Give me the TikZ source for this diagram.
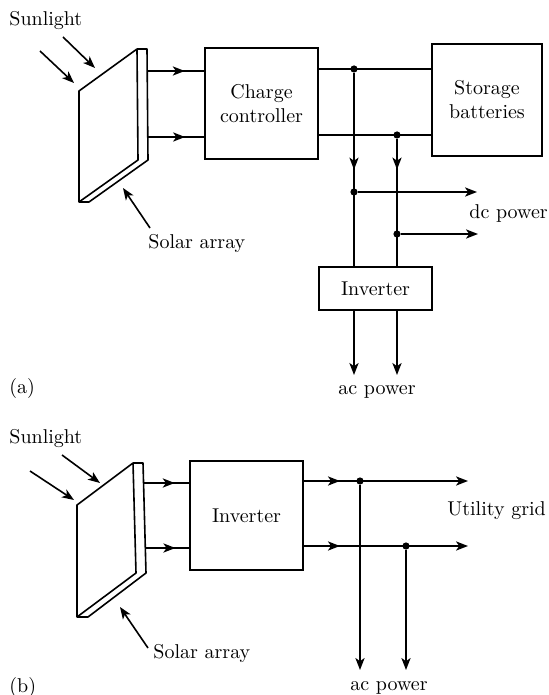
\documentclass[tikz,border=0pt]{standalone}
\usetikzlibrary{positioning,arrows.meta,calc}
\usetikzlibrary{decorations.markings}
\tikzset{
  wire/.style={line width=0.8pt},
  feed/.style={wire, ->},
  midflow/.style={wire, postaction={decorate},
    decoration={markings,mark=at position #1 with {\arrow{>}}}},
  block/.style={draw, line width=0.8pt, align=center, minimum width=56.5pt},
  junction/.style={circle, fill=black, inner sep=0pt, minimum size=3.6pt},
  plaintext/.style={inner sep=0pt, anchor=base west}
}

\begin{document}
\begin{tikzpicture}[x=0.5pt, y=-0.5pt, >={Stealth[length=6pt,width=4.6pt,inset=1.6pt]}]
    \useasboundingbox (0,0) rectangle (548,695);

    % (a) stand-alone system
    \node[plaintext] (suna) at (9,26) {Sunlight};
    \coordinate (ra1) at (40,51);  \coordinate (ra1e) at (74,83);
    \coordinate (ra2) at (63,37);  \coordinate (ra2e) at (95,68);
    \draw[feed] (ra1) -- (ra1e);
    \draw[feed] (ra2) -- (ra2e);

    \coordinate (pa) at (79,91);   \coordinate (pb) at (137,49);
    \coordinate (pc) at (138,160); \coordinate (pd) at (79,202);
    \coordinate (pbb) at (147,49); \coordinate (pcb) at (148,160);
    \coordinate (pdb) at (89,202);
    \draw[wire, line join=round] (pa) -- (pb) -- (pc) -- (pd) -- cycle;
    \draw[wire, line join=round] (pb) -- (pbb) -- (pcb) -- (pdb) -- (pd);

    \node[plaintext] (arraya) at (148,249) {Solar array};
    \coordinate (sa) at (150,228); \coordinate (sae) at (123,188);
    \draw[feed] (sa) -- (sae);

    \node[block, minimum height=55.5pt] (charger) at (261.5,103.5) {Charge\\controller};
    \node[block, minimum width=55pt, minimum height=56pt] (batt) at (487,100) {Storage\\batteries};
    \node[block, minimum height=21.5pt] (inva) at (375.5,288.5) {Inverter};

    \coordinate (oa1) at (147,71);
    \coordinate (oa2) at (148,137);
    \draw[midflow=0.66] (oa1) -- (charger.west |- oa1);
    \draw[midflow=0.66] (oa2) -- (charger.west |- oa2);

    \node[junction] (ja1) at (354,69) {};
    \node[junction] (jb1) at (397,135) {};
    \node[junction] (jd1) at (354,192) {};
    \node[junction] (jd2) at (397,234) {};
    \draw[wire] (charger.east |- ja1) -- (batt.west |- ja1);
    \draw[wire] (charger.east |- jb1) -- (batt.west |- jb1);
    \draw[midflow=0.5] (ja1) -- (inva.north -| ja1);
    \draw[midflow=0.24] (jb1) -- (inva.north -| jb1);

    \coordinate (dca) at (477,192);
    \coordinate (dcb) at (478,234);
    \draw[feed] (jd1) -- (dca);
    \draw[feed] (jd2) -- (dcb);
    \node[plaintext] (dclabel) at (469,219) {dc power};

    \coordinate (aca) at (354,375);
    \coordinate (acb) at (397,375);
    \draw[feed] (inva.south -| ja1) -- (aca);
    \draw[feed] (inva.south -| jb1) -- (acb);
    \node[anchor=base, inner sep=0pt] (aclabela) at (377,394) {ac power};

    \node[plaintext] (taga) at (9,393) {(a)};

    % (b) grid-connected system
    \node[plaintext] (sunb) at (9,443) {Sunlight};
    \coordinate (rb1) at (30,471);  \coordinate (rb1e) at (74,500);
    \coordinate (rb2) at (62,455);  \coordinate (rb2e) at (100,483);
    \draw[feed] (rb1) -- (rb1e);
    \draw[feed] (rb2) -- (rb2e);

    \coordinate (qa) at (77,505);   \coordinate (qb) at (133,463);
    \coordinate (qc) at (136,573);  \coordinate (qd) at (77,617);
    \coordinate (qbb) at (143,463); \coordinate (qcb) at (146,573);
    \coordinate (qdb) at (88,617);
    \draw[wire, line join=round] (qa) -- (qb) -- (qc) -- (qd) -- cycle;
    \draw[wire, line join=round] (qb) -- (qbb) -- (qcb) -- (qdb) -- (qd);

    \node[plaintext] (arrayb) at (153,658) {Solar array};
    \coordinate (sb) at (148,648); \coordinate (sbe) at (120,607);
    \draw[feed] (sb) -- (sbe);

    \node[block, minimum height=54.5pt] (invb) at (246.5,515.5) {Inverter};

    \coordinate (ob1) at (144,483);
    \coordinate (ob2) at (146,548);
    \draw[midflow=0.68] (ob1) -- (invb.west |- ob1);
    \draw[midflow=0.68] (ob2) -- (invb.west |- ob2);

    \node[junction] (jc1) at (360,481) {};
    \node[junction] (jc2) at (406,546) {};
    \coordinate (uga) at (468,481);
    \coordinate (ugb) at (468,546);
    \draw[midflow=0.22, ->] (invb.east |- uga) -- (uga);
    \draw[midflow=0.22, ->] (invb.east |- ugb) -- (ugb);
    \node[plaintext] (uglabel) at (447,515) {Utility grid};

    \coordinate (acc) at (360,670);
    \coordinate (acd) at (406,670);
    \draw[feed] (jc1) -- (acc);
    \draw[feed] (jc2) -- (acd);
    \node[anchor=base, inner sep=0pt] (aclabelb) at (389,690) {ac power};

    \node[plaintext] (tagb) at (9,692) {(b)};
\end{tikzpicture}
\end{document}
